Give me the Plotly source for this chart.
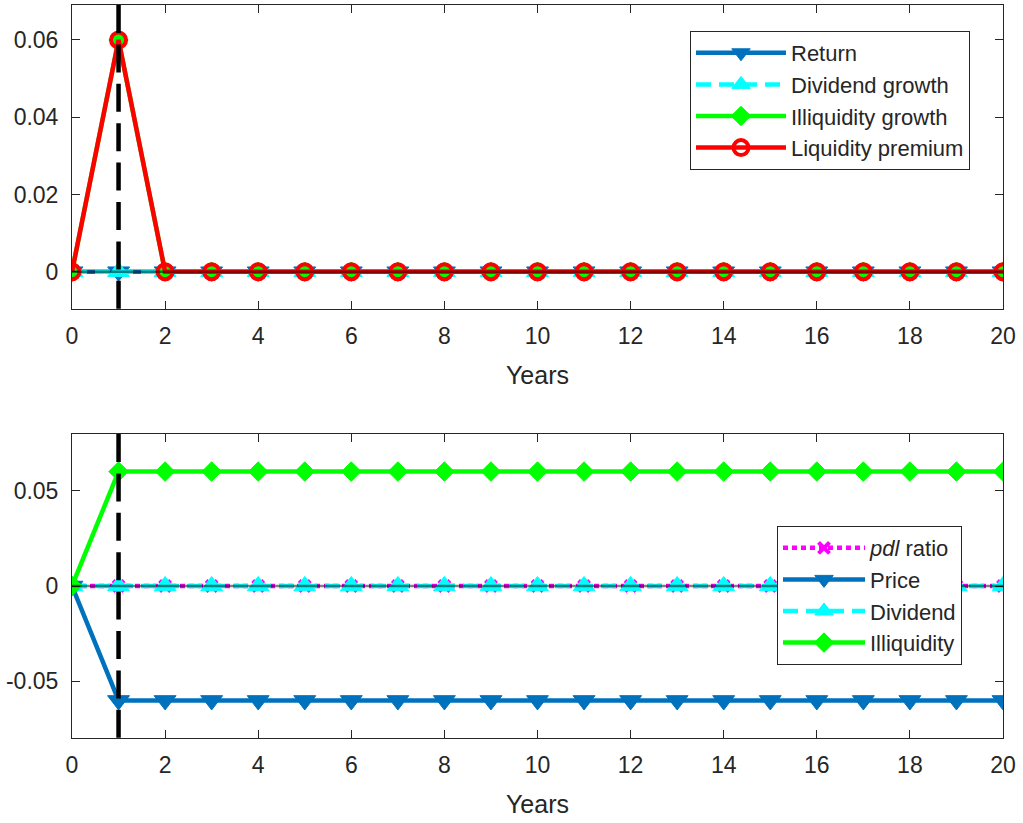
import plotly.graph_objects as go

years = list(range(0, 21))

# Top panel series
ret = [0.0] * 21
div_growth = [0.0] * 21
illiq_growth = [0.0, 0.06] + [0.0] * 19
liq_premium = [0.0, 0.06] + [0.0] * 19

# Bottom panel series
pdl_ratio = [0.0] * 21
price = [0.0] + [-0.06] * 20
dividend = [0.0] * 21
illiquidity = [0.0] + [0.06] * 20

shock_year = 1
x_ticks = list(range(0, 21, 2))
top_y_ticks = [0, 0.02, 0.04, 0.06]
top_y_labels = ["0", "0.02", "0.04", "0.06"]
bot_y_ticks = [-0.05, 0, 0.05]
bot_y_labels = ["-0.05", "0", "0.05"]

BLUE = "#0072BD"
CYAN = "#00FFFF"
GREEN = "#00FF00"
RED = "#FF0000"
MAGENTA = "#FF00FF"
AX = "#262626"
FONT = "Liberation Sans, Arial, sans-serif"
LW = 4.5

fig = go.Figure()

def add(x, y, name, color, symbol, size, dash, xa, ya, legend, open_marker=False):
    if open_marker:
        marker = dict(symbol=symbol, size=size, color=color, line=dict(color=color, width=4))
    else:
        marker = dict(symbol=symbol, size=size, color=color, line=dict(color=color, width=1))
    fig.add_trace(go.Scatter(x=x, y=y, name=name, mode="lines+markers",
                             line=dict(color=color, width=LW, dash=dash),
                             marker=marker, xaxis=xa, yaxis=ya, legend=legend))

# Top
add(years, ret, "Return", BLUE, "triangle-down", 19, "solid", "x", "y", "legend")
add(years, div_growth, "Dividend growth", CYAN, "triangle-up", 19, "15px,8px", "x", "y", "legend")
add(years, illiq_growth, "Illiquidity growth", GREEN, "diamond", 15, "solid", "x", "y", "legend")
add(years, liq_premium, "Liquidity premium", RED, "circle-open", 15, "solid", "x", "y", "legend", open_marker=True)

# Bottom
add(years, pdl_ratio, "<i>pdl</i> ratio", MAGENTA, "x-thin-open", 11, "5px,4px", "x2", "y2", "legend2", open_marker=True)
add(years, price, "Price", BLUE, "triangle-down", 19, "solid", "x2", "y2", "legend2")
add(years, dividend, "Dividend", CYAN, "triangle-up", 19, "15px,8px", "x2", "y2", "legend2")
add(years, illiquidity, "Illiquidity", GREEN, "diamond", 15, "solid", "x2", "y2", "legend2")

W, H = 1023, 823
xdom = [72 / W, 1003 / W]
top_dom = [1 - 309 / H, 1 - 5 / H]
bot_dom = [1 - 738 / H, 1 - 434 / H]

axis_common = dict(showline=True, linecolor=AX, linewidth=1, mirror="ticks",
                   ticks="inside", ticklen=8, tickcolor=AX, tickwidth=1,
                   showgrid=False, zeroline=False, automargin=False,
                   tickfont=dict(family=FONT, size=23, color=AX))

xa = dict(axis_common, range=[0, 20], tickvals=x_ticks, domain=xdom, ticklabelstandoff=6,
          title=dict(text="Years", font=dict(family=FONT, size=25, color=AX), standoff=18))

ya = dict(axis_common, ticklabelstandoff=8)

fig.update_layout(
    template="none",
    width=W, height=H,
    margin=dict(l=0, r=0, t=0, b=0, pad=0),
    paper_bgcolor="white", plot_bgcolor="white",
    font=dict(family=FONT, color=AX),
    xaxis=dict(xa, anchor="y"),
    yaxis=dict(ya, range=[-0.00966, 0.06906], tickvals=top_y_ticks,
               ticktext=top_y_labels, domain=top_dom, anchor="x"),
    xaxis2=dict(xa, anchor="y2"),
    yaxis2=dict(ya, range=[-0.0797, 0.0797], tickvals=bot_y_ticks,
                ticktext=bot_y_labels, domain=bot_dom, anchor="x2"),
    legend=dict(x=690 / W, y=1 - 31 / H, xanchor="left", yanchor="top",
                bgcolor="white", bordercolor=AX, borderwidth=1,
                font=dict(family=FONT, size=22, color=AX),
                itemwidth=90, tracegroupgap=0),
    legend2=dict(x=777 / W, y=1 - 526 / H, xanchor="left", yanchor="top",
                 bgcolor="white", bordercolor=AX, borderwidth=1,
                 font=dict(family=FONT, size=22, color=AX),
                 itemwidth=82, tracegroupgap=0),
    showlegend=True,
)

shapes = []
for xr, yr in (("x", "y"), ("x2", "y2")):
    shapes.append(dict(type="line", xref="x domain" if xr == "x" else "x2 domain", yref=yr,
                       x0=0, x1=1, y0=0, y1=0, layer="above",
                       line=dict(color="rgba(0,0,0,0.5)", width=2.5)))
    shapes.append(dict(type="line", xref=xr, yref=yr + " domain",
                       x0=shock_year, x1=shock_year, y0=1, y1=0, layer="above",
                       line=dict(color="black", width=4.5, dash="28px,11.4px")))
fig.update_layout(shapes=shapes)

fig.write_html("out.html")
